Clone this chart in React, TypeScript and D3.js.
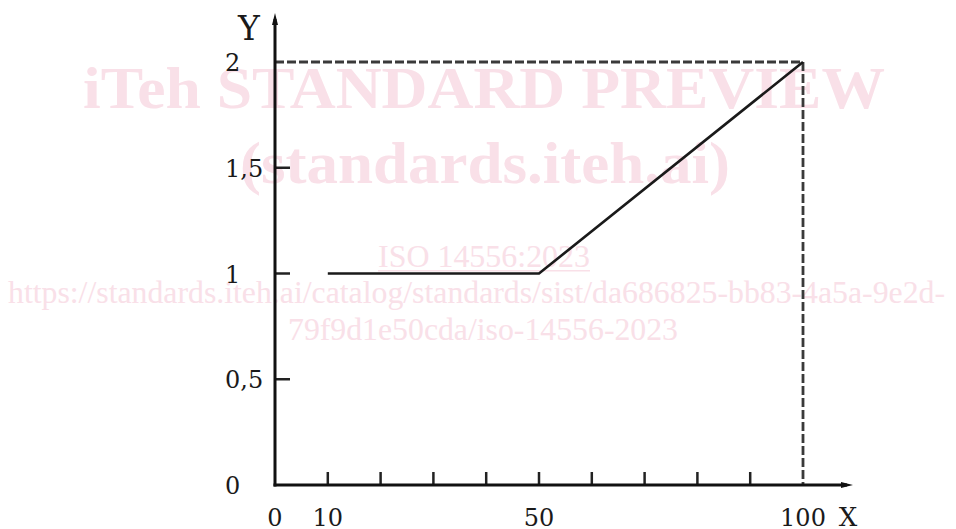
import React from "react";
import * as d3 from "d3";

const lineX = [10, 50, 100];
const lineY = [1, 1, 2];
const xTickValues = [10, 20, 30, 40, 50, 60, 70, 80, 90];
const xLabelValues = [0, 10, 50, 100];
const xLabelTexts = ["0", "10", "50", "100"];
const yTickValues = [0.5, 1, 1.5];
const yLabelValues = [0, 0.5, 1, 1.5, 2];
const yLabelTexts = ["0", "0,5", "1", "1,5", "2"];
const limitX = 100;
const limitY = 2;

const W = 956;
const H = 529;

export default function App() {
  const x = d3.scaleLinear().domain([0, 100]).range([275, 803]);
  const y = d3.scaleLinear().domain([0, 2]).range([485, 62]);
  const pts: [number, number][] = lineX.map((v, i) => [v, lineY[i]]);
  const lineGen = d3
    .line<[number, number]>()
    .x((d) => x(d[0]))
    .y((d) => y(d[1]));

  const wm = "#f9e0e8";
  const axisTop = 13;
  const axisRight = 853;

  return (
    <svg
      width={W}
      height={H}
      style={{ position: "absolute", left: 0, top: 0, background: "#fff" }}
    >
      <rect width={W} height={H} fill="#fff" />
      {/* watermark */}
      <g fill={wm} fontFamily="'Liberation Serif', serif">
        <text x={83} y={108} fontSize={60} fontWeight="bold" textLength={802} lengthAdjust="spacingAndGlyphs">
          iTeh STANDARD PREVIEW
        </text>
        <text x={240} y={183} fontSize={60} fontWeight="bold" textLength={490} lengthAdjust="spacingAndGlyphs">
          (standards.iteh.ai)
        </text>
        <text x={378} y={267} fontSize={32} textLength={212} lengthAdjust="spacingAndGlyphs">
          ISO 14556:2023
        </text>
        <rect x={378} y={270} width={212} height={1.5} />
        <text x={8} y={303} fontSize={32} textLength={937} lengthAdjust="spacingAndGlyphs">
          https://standards.iteh.ai/catalog/standards/sist/da686825-bb83-4a5a-9e2d-
        </text>
        <text x={288} y={340} fontSize={32} textLength={390} lengthAdjust="spacingAndGlyphs">
          79f9d1e50cda/iso-14556-2023
        </text>
      </g>

      {/* dashed limits */}
      <g stroke="#3a3a3a" strokeWidth={2.8} strokeDasharray="9 3" fill="none">
        <line x1={x(0)} x2={x(limitX)} y1={y(limitY)} y2={y(limitY)} />
        <line x1={x(limitX)} x2={x(limitX)} y1={y(limitY)} y2={y(0)} />
      </g>

      {/* ticks */}
      <g stroke="#222" strokeWidth={2.5}>
        {xTickValues.map((v) => (
          <line key={"xt" + v} x1={x(v)} x2={x(v)} y1={y(0)} y2={y(0) - 13} />
        ))}
        {yTickValues.map((v) => (
          <line key={"yt" + v} x1={x(0)} x2={x(0) + 15} y1={y(v)} y2={y(v)} />
        ))}
      </g>

      {/* data line */}
      <path d={lineGen(pts) || ""} fill="none" stroke="#1a1a1a" strokeWidth={2.6} />

      {/* axes */}
      <g stroke="#111" strokeWidth={3} fill="none">
        <line x1={x(0)} x2={x(0)} y1={y(0) + 1.5} y2={axisTop + 6} />
        <line x1={x(0) - 1.5} x2={axisRight - 6} y1={y(0)} y2={y(0)} />
      </g>
      <g fill="#111">
        <path d={`M${x(0)},${axisTop} L${x(0) - 3},${axisTop + 12} L${x(0) + 3},${axisTop + 12} Z`} />
        <path d={`M${axisRight},${y(0)} L${axisRight - 12},${y(0) - 3} L${axisRight - 12},${y(0) + 3} Z`} />
      </g>

      {/* labels */}
      <g fill="#1a1a1a" fontFamily="'DejaVu Serif', serif" fontSize={24}>
        {yLabelValues.map((v, i) => (
          <text key={"yl" + v} x={225} y={y(v) + 9}>
            {yLabelTexts[i]}
          </text>
        ))}
        {xLabelValues.map((v, i) => (
          <text key={"xl" + v} x={x(v)} y={526} textAnchor="middle">
            {xLabelTexts[i]}
          </text>
        ))}
        <text x={848} y={526} textAnchor="middle" fontSize={26}>
          X
        </text>
        <text x={249} y={40} textAnchor="middle" fontSize={33}>
          Y
        </text>
      </g>
    </svg>
  );
}
